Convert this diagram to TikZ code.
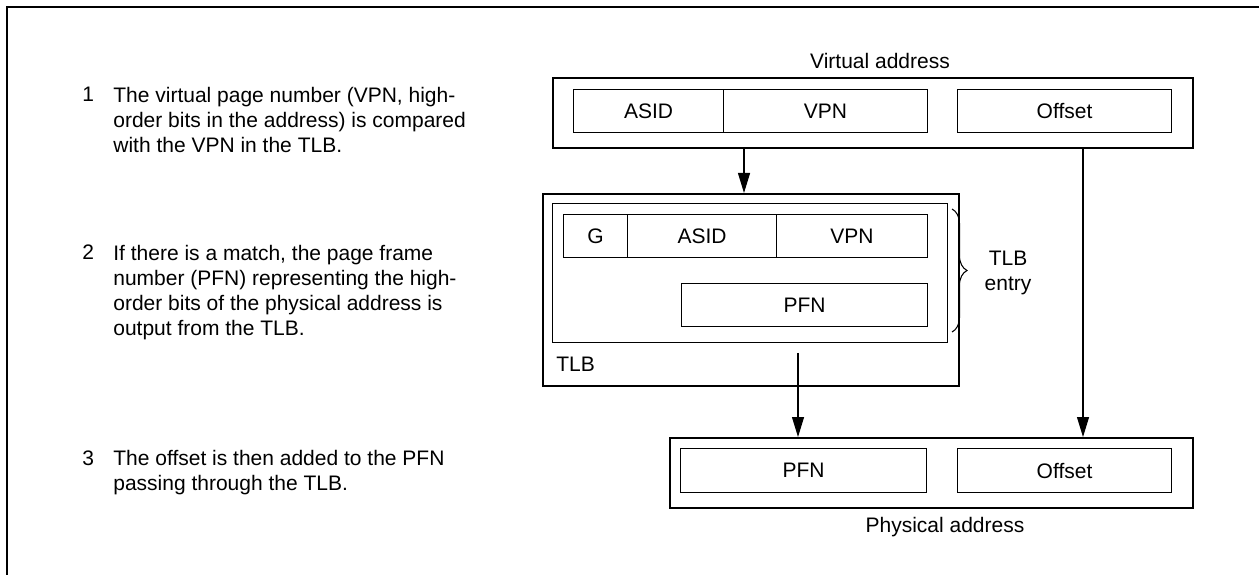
\documentclass[tikz,border=0pt]{standalone}
\usepackage{fontspec}
\setmainfont{Liberation Sans}
\usepackage{tikz}
\usetikzlibrary{arrows.meta,decorations.pathreplacing}
\tikzset{frame/.style={draw,line width=1.4pt,inner sep=0pt,anchor=north west},
  field/.style={draw,line width=0.6pt,inner sep=0pt,anchor=north west},
  arr/.style={-{Triangle[length=0.4cm,width=0.24cm]},line width=0.6pt},
  note/.style={align=left,anchor=base west,inner sep=0pt}}
\newcommand{\regbox}[7][field]{\node[#1,minimum width={((#4)-(#2))*1cm},
  minimum height={((#3)-(#5))*1cm}] (#6) at (#2,#3) {#7};}

\begin{document}
\begin{tikzpicture}[font=\fontsize{11.95pt}{14.23pt}\selectfont]
\useasboundingbox (0,0) rectangle (25.18,-11.5);
\draw[line width=1.5pt] (25.18,-0.14)--(0.14,-0.14)--(0.14,-11.5);
% steps (text nodes sit on their last baseline)
\node[note] (n1) at (1.64,-2.04) {1};
\node[note] (t1) at (2.26,-3.044) {The virtual page number (VPN, high-\\order bits in the address) is compared\\with the VPN in the TLB.};
\node[note] (n2) at (1.64,-5.2) {2};
\node[note] (t2) at (2.26,-6.706) {If there is a match, the page frame\\number (PFN) representing the high-\\order bits of the physical address is\\output from the TLB.};
\node[note] (n3) at (1.64,-9.3) {3};
\node[note] (t3) at (2.26,-9.802) {The offset is then added to the PFN\\passing through the TLB.};
% virtual address
\regbox[frame]{11.04}{-1.54}{23.84}{-2.94}{va}{}
\regbox{11.46}{-1.78}{14.46}{-2.64}{vasid}{ASID}
\regbox{14.46}{-1.78}{18.54}{-2.64}{vvpn}{VPN}
\regbox{19.14}{-1.78}{23.42}{-2.64}{voff}{Offset}
\node (valbl) at (17.6,-1.22) {Virtual address};
% TLB
\regbox[frame]{10.84}{-3.86}{19.16}{-7.70}{tlb}{}
\regbox{11.04}{-4.06}{18.94}{-6.84}{entry}{}
\regbox{11.26}{-4.28}{12.54}{-5.14}{eg}{G}
\regbox{12.54}{-4.28}{15.52}{-5.14}{easid}{ASID}
\regbox{15.52}{-4.28}{18.54}{-5.14}{evpn}{VPN}
\regbox{13.62}{-5.66}{18.54}{-6.52}{epfn}{PFN}
\node[anchor=west,inner sep=0pt] (tlblbl) at (11.12,-7.28) {TLB};
\coordinate (bt) at (19.04,-4.18); \coordinate (bb) at (19.04,-6.64);
\draw[decorate,decoration={brace,amplitude=0.3cm},line width=0.6pt] (bt)--(bb);
\node[align=center] (entrylbl) at (20.16,-5.45) {TLB\\entry};
% physical address
\regbox[frame]{13.38}{-8.74}{23.84}{-10.14}{pa}{}
\regbox{13.6}{-8.96}{18.52}{-9.84}{ppfn}{PFN}
\regbox{19.14}{-8.96}{23.42}{-9.84}{poff}{Offset}
\node (palbl) at (18.9,-10.54) {Physical address};
\coordinate (c1) at (14.88,0); \coordinate (s2) at (15.96,-7.06); \coordinate (c3) at (21.66,0);
\draw[arr] (va.south -| c1)--(tlb.north -| c1);
\draw[arr] (s2)--(pa.north -| s2);
\draw[arr] (va.south -| c3)--(pa.north -| c3);
\end{tikzpicture}
\end{document}
